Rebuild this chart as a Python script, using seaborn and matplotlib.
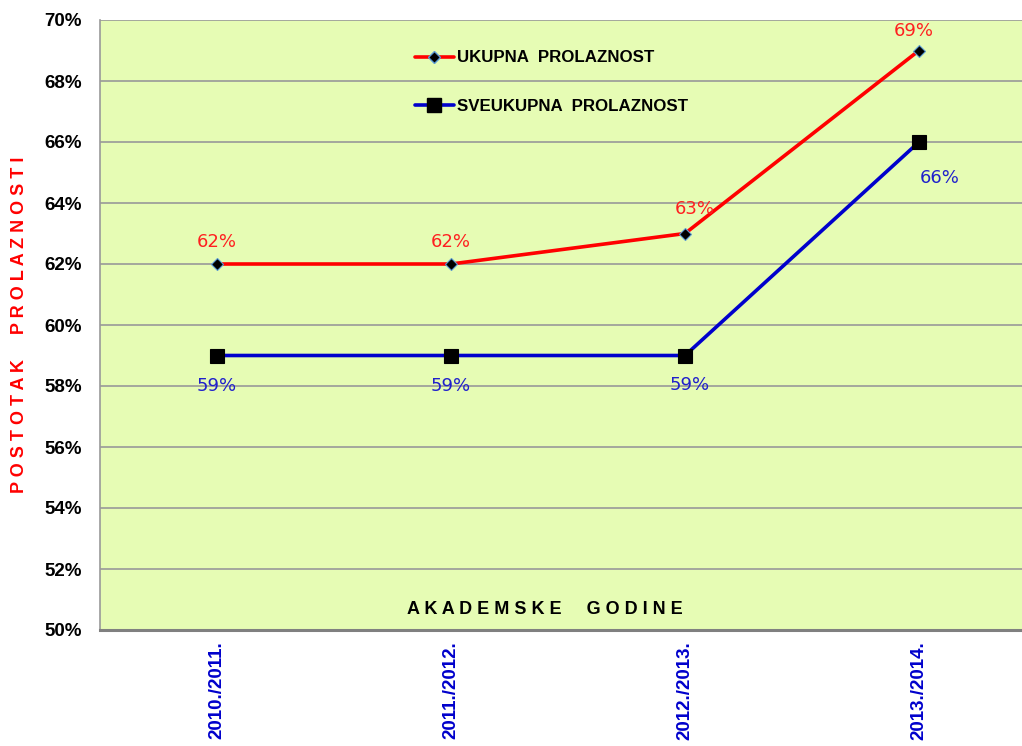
import numpy as np
import pandas as pd
import seaborn as sns
import matplotlib.pyplot as plt
from matplotlib.lines import Line2D

godine = ['2010./2011.', '2011./2012.', '2012./2013.', '2013./2014.']
ukupna = [62, 62, 63, 69]
sveukupna = [59, 59, 59, 66]

df = pd.DataFrame({'godina': godine * 2,
                   'postotak': ukupna + sveukupna,
                   'serija': ['UKUPNA  PROLAZNOST'] * 4 + ['SVEUKUPNA  PROLAZNOST'] * 4})
df['x'] = list(range(4)) * 2

sns.set_style('white')
plt.rcParams['font.family'] = ['Liberation Sans', 'DejaVu Sans']
plt.rcParams['text.color'] = 'black'
plt.rcParams['xtick.color'] = 'black'
plt.rcParams['ytick.color'] = 'black'

fig = plt.figure(figsize=(10.22, 7.46), dpi=100)
ax = fig.add_axes([100 / 1022, 116 / 746, 936 / 1022, 610 / 746])
ax.set_facecolor('#e6fcb4')

ax.set_ylim(50, 70)
ax.set_xlim(-0.5, 3.5)
ax.set_yticks(np.arange(50, 71, 2))
ax.yaxis.grid(True, color='#999999', linewidth=1.2)
ax.set_axisbelow(True)

sns.lineplot(data=df, x='x', y='postotak', hue='serija', style='serija',
             palette={'UKUPNA  PROLAZNOST': '#ff0000', 'SVEUKUPNA  PROLAZNOST': '#0000cc'},
             markers={'UKUPNA  PROLAZNOST': 'D', 'SVEUKUPNA  PROLAZNOST': 's'},
             dashes=False, linewidth=2.6, ax=ax, legend=False, zorder=3)

# marker styling
for line, ms, mec in zip(ax.lines, [6, 10], ['#5b9bd5', 'black']):
    line.set_markersize(ms)
    line.set_markerfacecolor('black')
    line.set_markeredgecolor(mec)
    line.set_markeredgewidth(0.8)

# data labels
off_u = [(0, 16), (0, 16), (7, 18), (-4, 14)]
off_s = [(0, -22), (0, -22), (3, -21), (15, -26)]
for i, v in enumerate(ukupna):
    ax.annotate(f'{v}%', (i, v), xytext=off_u[i], textcoords='offset points',
                ha='center', va='center', color='#ff2020', fontsize=13, family='DejaVu Sans')
for i, v in enumerate(sveukupna):
    ax.annotate(f'{v}%', (i, v), xytext=off_s[i], textcoords='offset points',
                ha='center', va='center', color='#2020cc', fontsize=13, family='DejaVu Sans')

# legend
h1 = Line2D([], [], color='#ff0000', lw=2.6, marker='D', ms=6, mfc='black', mec='#5b9bd5')
h2 = Line2D([], [], color='#0000cc', lw=2.6, marker='s', ms=10, mfc='black', mec='black')
leg = ax.legend([h1, h2], ['UKUPNA  PROLAZNOST', 'SVEUKUPNA  PROLAZNOST'],
                loc='upper left', bbox_to_anchor=(0.32, 0.975), frameon=False,
                handlelength=2.3, handletextpad=0.2, labelspacing=2.0,
                prop={'weight': 'bold', 'size': 12.2})

ax.set_xticks(range(4))
ax.set_xticklabels(godine, rotation=90, color='#0000cc', fontweight='bold', fontsize=13.5)
ax.set_yticklabels([f'{v}%' for v in range(50, 71, 2)], fontweight='bold', fontsize=13.5)
ax.tick_params(axis='y', length=0, pad=13)
ax.tick_params(axis='x', length=0, pad=8)

ax.set_xlabel('')
ax.set_ylabel('P O S T O T A K     P R O L A Z N O S T I', color='#ff0000',
              fontweight='bold', fontsize=13)
ax.yaxis.set_label_coords(-72 / 936, 0.5)
ax.text(445 / 936, 0.033, 'A K A D E M S K E     G O D I N E', transform=ax.transAxes,
        ha='center', va='center', fontweight='bold', fontsize=13)

for s in ['top', 'right']:
    ax.spines[s].set_visible(False)
ax.spines['left'].set_color('#999999')
ax.spines['left'].set_linewidth(1.2)
ax.spines['bottom'].set_color('#808080')
ax.spines['bottom'].set_linewidth(2.2)

fig.savefig('out.png', dpi=100)
